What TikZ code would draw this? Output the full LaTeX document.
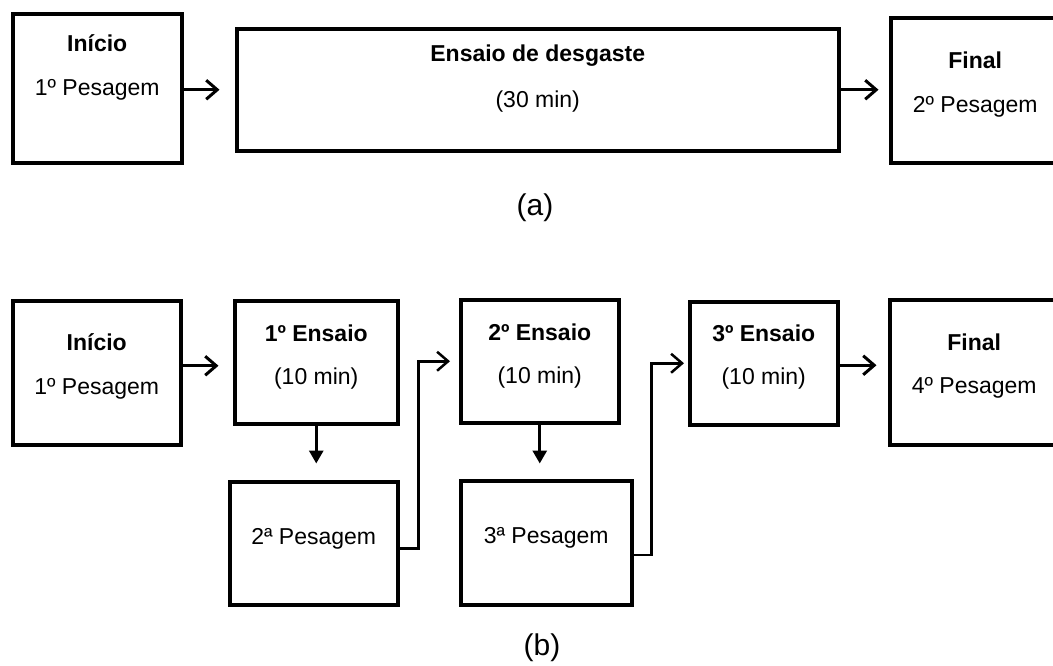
\documentclass[tikz,border=0pt]{standalone}
\usepackage{fontspec}
\setmainfont{Liberation Sans}
\usetikzlibrary{arrows.meta}
\usetikzlibrary{positioning}

\begin{document}
\begin{tikzpicture}[
	x=1pt, y=-1pt,
	box/.style={rectangle, draw, line width=3.5pt, anchor=north west, inner sep=0pt},
	ttl/.style={font=\bfseries\fontsize{23}{27}\selectfont},
	txt/.style={font=\fontsize{23}{27}\selectfont},
	legend/.style={font=\fontsize{30}{36}\selectfont},
	arr/.style={line width=3pt, -{Straight Barb[length=11pt, width=19pt]}},
	darr/.style={line width=3pt, -{Triangle[length=13pt, width=14pt]}},
	elb/.style={line width=2.5pt, -{Straight Barb[length=11pt, width=19pt]}},
	]
	\useasboundingbox (0,0) rectangle (1053,665);

	% (a)
	\node[box, minimum width=169pt, minimum height=149pt] (iniA) at (11,12) {};
	\node[box, minimum width=602pt, minimum height=122pt] (ensA) at (235,27) {};
	\node[box, minimum width=169pt, minimum height=145pt] (finA) at (889,16) {};

	\node[ttl] at ([yshift=-31pt] iniA.north) {Início};
	\node[txt] at ([yshift=-78pt] iniA.north) {1º Pesagem};
	\node[ttl] at ([yshift=-29pt] ensA.north) {Ensaio de desgaste};
	\node[txt] at ([yshift=-75pt] ensA.north) {(30 min)};
	\node[ttl] at ([yshift=-44pt] finA.north) {Final};
	\node[txt] at ([yshift=-91pt] finA.north) {2º Pesagem};

	\draw[arr] (iniA.east |- ensA.west) -- ++(36,0);
	\draw[arr] (ensA.east) -- ++(38,0);

	\node[legend] (la) at (535,208) {(a)};

	% (b)
	\node[box, minimum width=168pt, minimum height=144pt] (iniB) at (11,299) {};
	\node[box, minimum width=163pt, minimum height=123pt] (e1) at (233,299) {};
	\node[box, minimum width=168pt, minimum height=123pt] (p2) at (228,480) {};
	\node[box, minimum width=158pt, minimum height=123pt] (e2) at (459,298) {};
	\node[box, minimum width=171pt, minimum height=124pt] (p3) at (459,479) {};
	\node[box, minimum width=148pt, minimum height=123pt] (e3) at (688,300) {};
	\node[box, minimum width=169pt, minimum height=145pt] (finB) at (888,298) {};

	\node[ttl] at ([yshift=-43pt] iniB.north) {Início};
	\node[txt] at ([yshift=-90pt] iniB.north) {1º Pesagem};
	\node[ttl] at ([yshift=-34pt] e1.north) {1º Ensaio};
	\node[txt] at ([yshift=-80pt] e1.north) {(10 min)};
	\node[txt] at ([yshift=4pt] p2.center) {2ª Pesagem};
	\node[ttl] at ([yshift=-34pt] e2.north) {2º Ensaio};
	\node[txt] at ([yshift=-80pt] e2.north) {(10 min)};
	\node[txt] at ([yshift=5pt] p3.center) {3ª Pesagem};
	\node[ttl] at ([yshift=-33pt] e3.north) {3º Ensaio};
	\node[txt] at ([yshift=-79pt] e3.north) {(10 min)};
	\node[ttl] at ([yshift=-44pt] finB.north) {Final};
	\node[txt] at ([yshift=-90pt] finB.north) {4º Pesagem};

	\draw[arr] ([yshift=7pt] iniB.east) -- ++(36,0);
	\draw[darr] (e1.south) -- ++(0,38);
	\draw[elb] ([yshift=-5pt] p2.east) -- ++(19,0) |- ([xshift=-9pt] e2.west);
	\draw[darr] (e2.south) -- ++(0,39);
	\draw[elb] ([yshift=-12pt] p3.east) -- ++(18,0) |- ([xshift=-4pt] e3.west);
	\draw[arr] ([yshift=-2pt] e3.east) -- ++(37,0);

	\node[legend] (lb) at (542,648) {(b)};

\end{tikzpicture}
\end{document}
